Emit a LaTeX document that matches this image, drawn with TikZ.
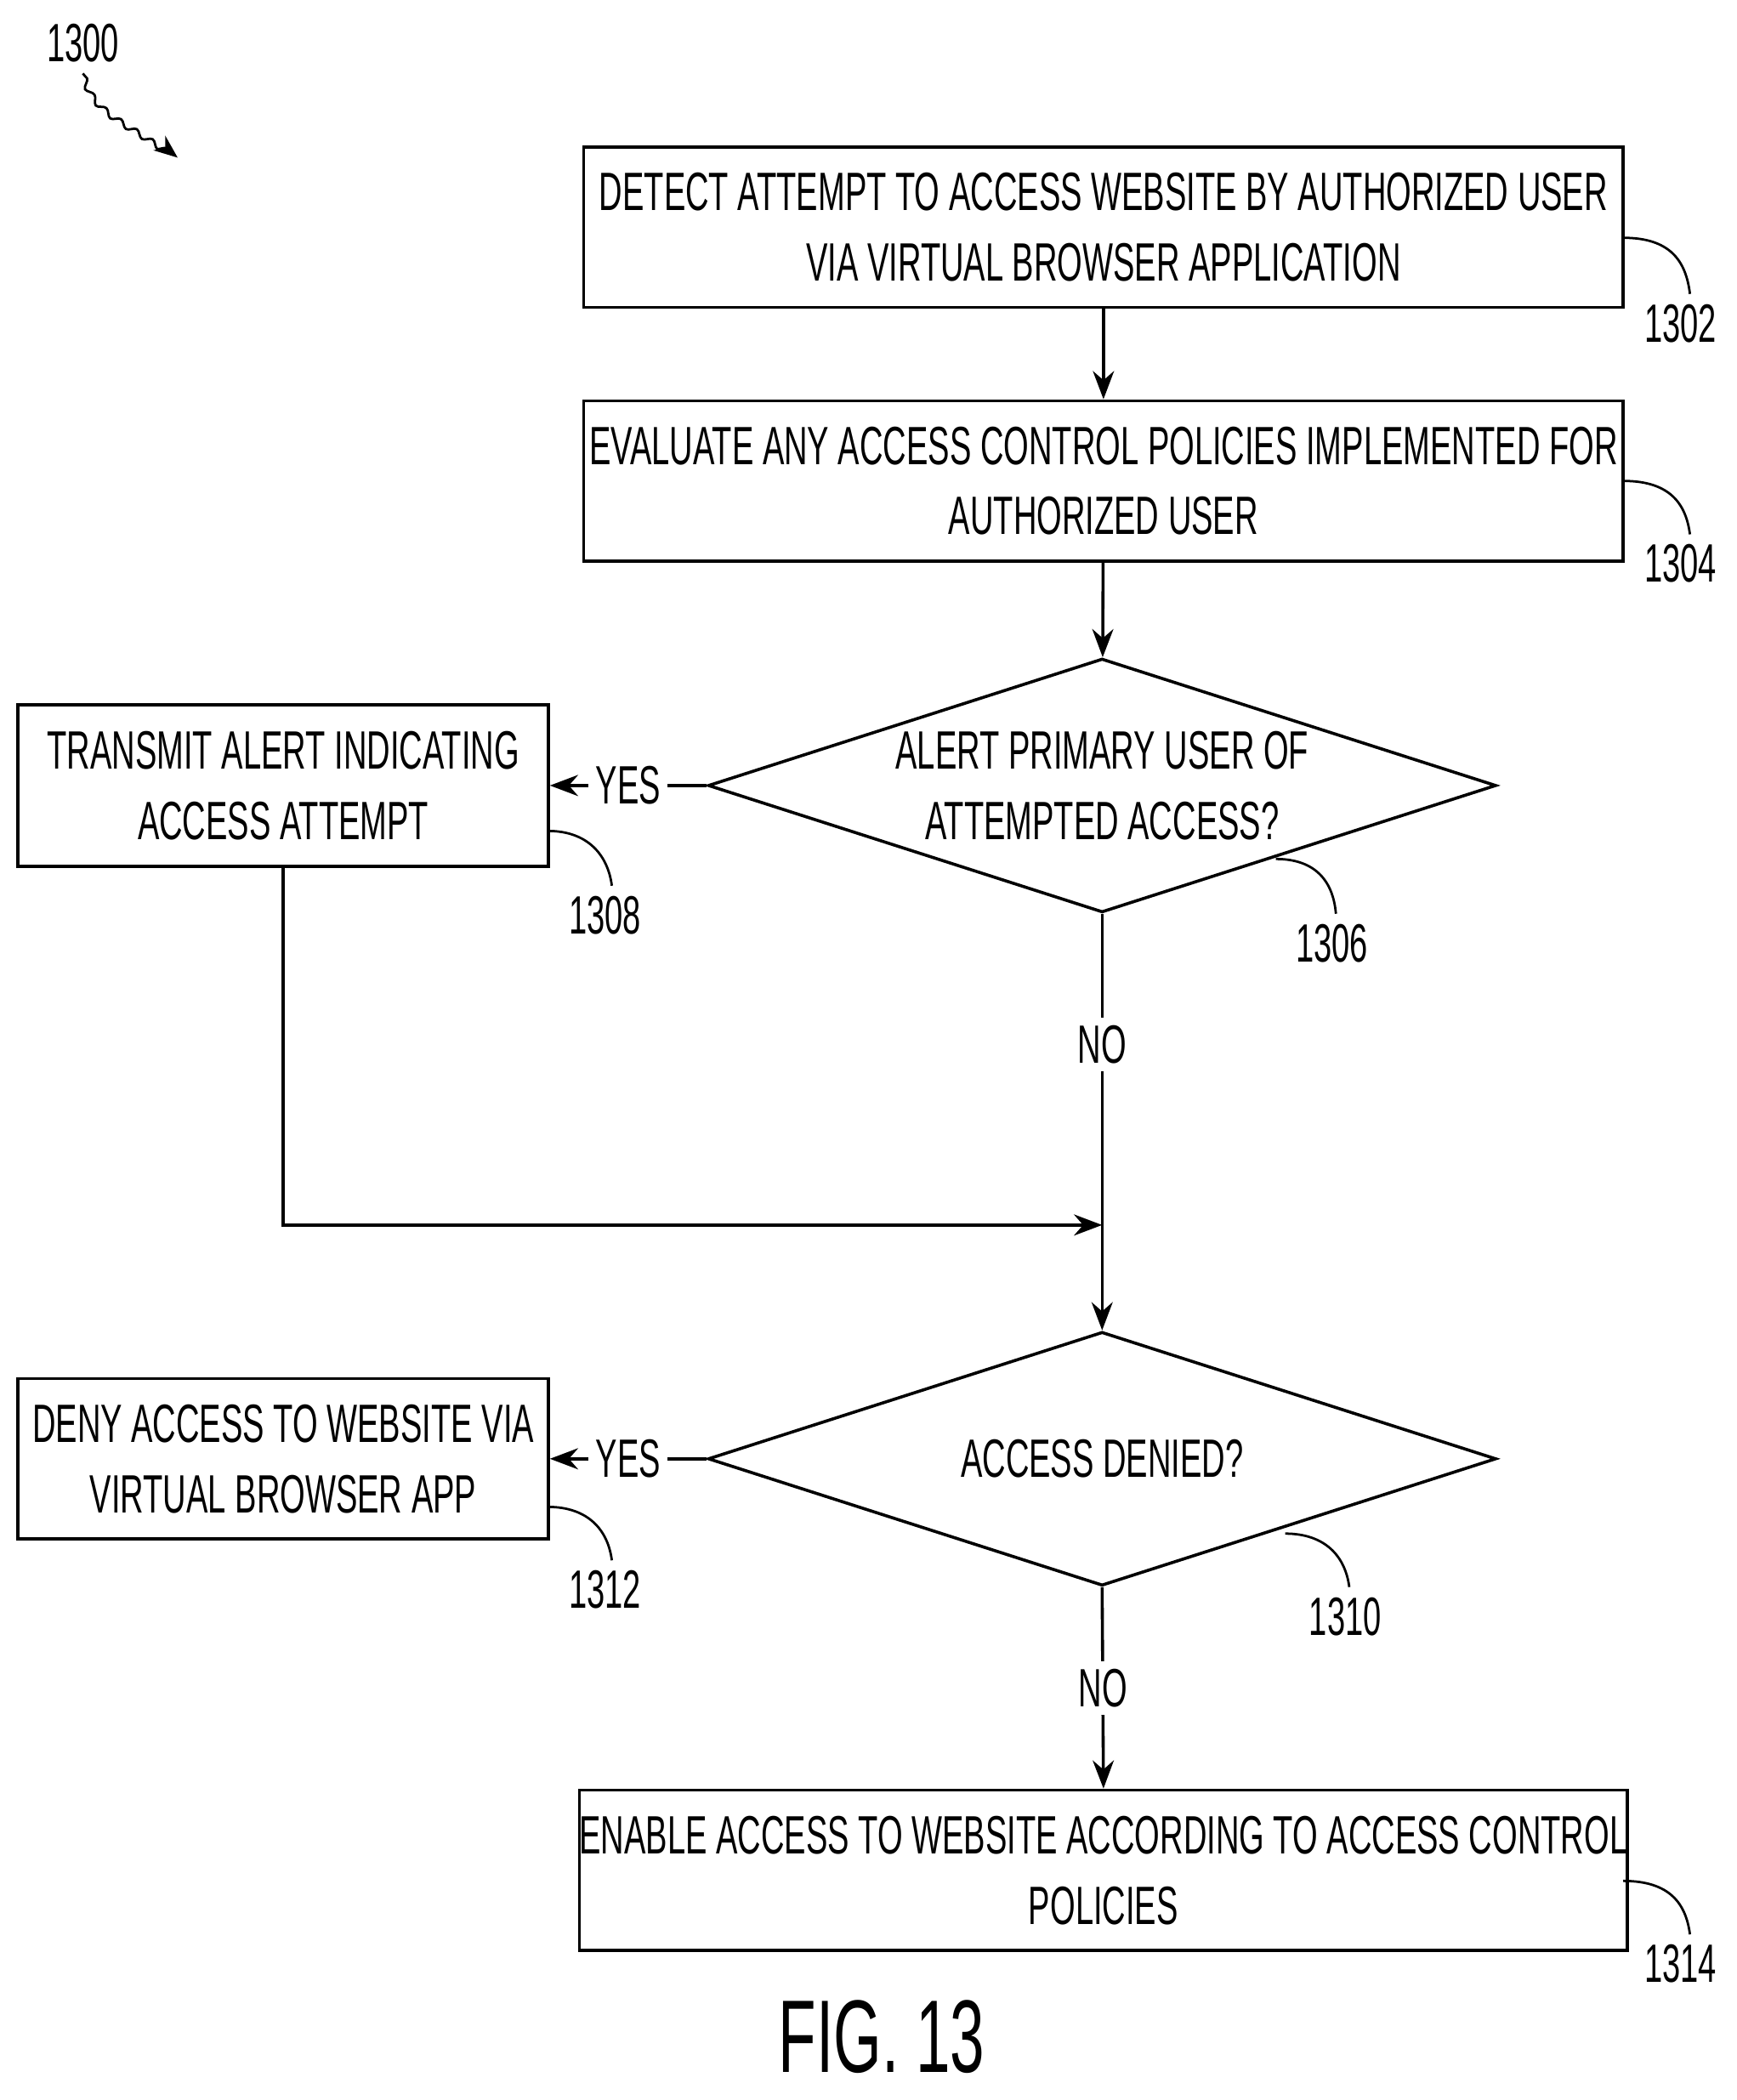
\documentclass[tikz,border=0pt]{standalone}
\usepackage{fontspec}
\setmainfont{Liberation Sans}[FakeStretch=0.6]
\usetikzlibrary{shapes.geometric,arrows.meta,decorations.pathmorphing}
\begin{document}
\begin{tikzpicture}[x=0.02cm,y=-0.02cm,
  box/.style={draw,line width=1.3pt,inner sep=0pt,font=\fontsize{23}{30}\selectfont,align=center},
  dia/.style={draw,diamond,line width=1.3pt,inner sep=0pt,font=\fontsize{23}{30}\selectfont,align=center,aspect=3.1},
  arr/.style={line width=1.3pt,-{Stealth[length=12pt,width=9pt]}},
  lab/.style={font=\fontsize{23}{28}\selectfont},
  lead/.style={line width=1pt}]
\useasboundingbox (0,0) rectangle (1300,1572);
\node[box,minimum width=778*0.02cm,minimum height=120*0.02cm] (b1302) at (826,170) {DETECT ATTEMPT TO ACCESS WEBSITE BY AUTHORIZED USER\\VIA VIRTUAL BROWSER APPLICATION};
\node[box,minimum width=778*0.02cm,minimum height=120*0.02cm] (b1304) at (826,360) {EVALUATE ANY ACCESS CONTROL POLICIES IMPLEMENTED FOR\\AUTHORIZED USER};
\node[dia,minimum width=590*0.02cm,minimum height=190*0.02cm] (d1306) at (825,588) {ALERT PRIMARY USER OF\\ATTEMPTED ACCESS?};
\node[box,minimum width=397*0.02cm,minimum height=121*0.02cm] (b1308) at (212,588) {TRANSMIT ALERT INDICATING\\ACCESS ATTEMPT};
\node[dia,minimum width=590*0.02cm,minimum height=190*0.02cm] (d1310) at (825,1092) {ACCESS DENIED?};
\node[box,minimum width=397*0.02cm,minimum height=120*0.02cm] (b1312) at (212,1092) {DENY ACCESS TO WEBSITE VIA\\VIRTUAL BROWSER APP};
\node[box,minimum width=778*0.02cm,minimum height=120*0.02cm] (b1314) at (826,1400) {ENABLE ACCESS TO WEBSITE ACCORDING TO ACCESS CONTROL\\POLICIES};
\coordinate (m) at (825,917);
\draw[arr] (b1302) -- (b1304);
\draw[arr] (b1304) -- (d1306);
\draw[arr] (d1306.west) -- node[lab,fill=white,inner sep=3pt]{YES} (b1308.east);
\draw[line width=1.3pt] (d1306.south) -- node[lab,fill=white,pos=0.42]{NO} (m);
\draw[arr] (m) -- (d1310.north);
\draw[arr] (b1308.south) |- (m);
\draw[arr] (d1310.west) -- node[lab,fill=white,inner sep=3pt]{YES} (b1312.east);
\draw[arr] (d1310.south) -- node[lab,fill=white]{NO} (b1314.north);
% reference labels
\node[lab] (l1302) at (1258,242) {1302};
\draw[lead] (1215,178) .. controls (1250,178) and (1262,195) .. (1265,220);
\node[lab] (l1304) at (1258,422) {1304};
\draw[lead] (1215,360) .. controls (1250,360) and (1262,377) .. (1265,400);
\node[lab] (l1308) at (453,685) {1308};
\draw[lead] (410,622) .. controls (440,622) and (455,640) .. (458,663);
\node[lab] (l1306) at (997,706) {1306};
\draw[lead] (955,643) .. controls (985,643) and (998,660) .. (1000,684);
\node[lab] (l1312) at (453,1190) {1312};
\draw[lead] (410,1128) .. controls (440,1128) and (455,1145) .. (458,1168);
\node[lab] (l1310) at (1007,1210) {1310};
\draw[lead] (962,1148) .. controls (992,1148) and (1007,1165) .. (1010,1188);
\node[lab] (l1314) at (1258,1470) {1314};
\draw[lead] (1215,1408) .. controls (1250,1408) and (1262,1425) .. (1265,1448);
\node[lab] (l1300) at (62,32) {1300};
\draw[line width=1pt,-{Stealth[length=10pt,width=8pt]},decorate,decoration={snake,amplitude=1.2pt,segment length=8pt,post length=6pt}] (62,55) .. controls (70,85) and (100,90) .. (133,118);
\node[font=\fontsize{44}{50}\selectfont] (fig) at (660,1525) {FIG. 13};
\end{tikzpicture}
\end{document}
